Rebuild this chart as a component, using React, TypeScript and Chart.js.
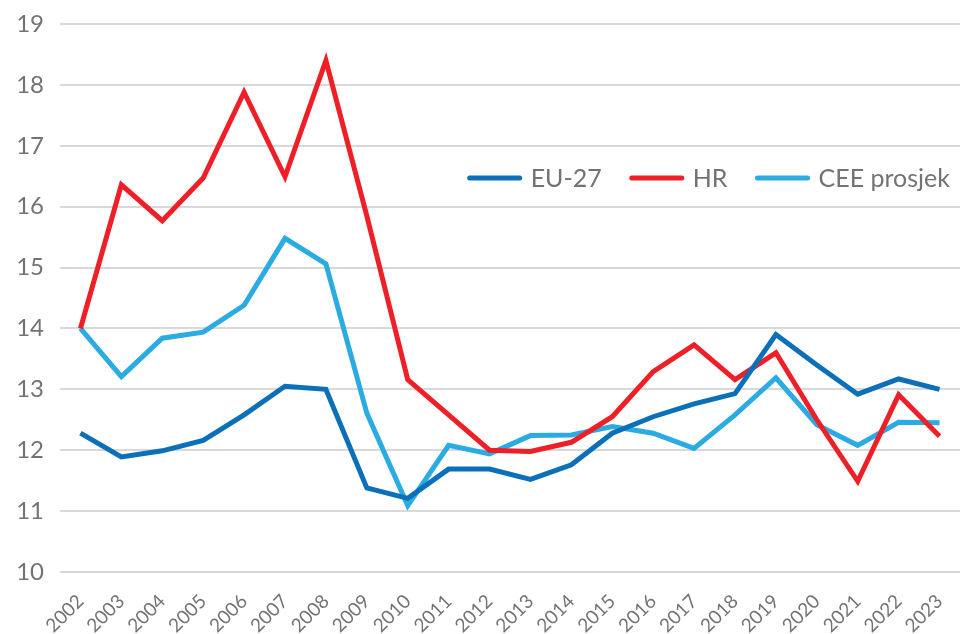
import React, { useEffect, useRef } from "react";
import { Chart, registerables } from "chart.js";

Chart.register(...registerables);

const years = ["2002","2003","2004","2005","2006","2007","2008","2009","2010","2011","2012","2013","2014","2015","2016","2017","2018","2019","2020","2021","2022","2023"];
const eu27 = [12.28, 11.89, 11.99, 12.16, 12.58, 13.05, 13.0, 11.38, 11.21, 11.69, 11.69, 11.52, 11.76, 12.28, 12.55, 12.76, 12.93, 13.9, 13.4, 12.92, 13.17, 13.0];
const hr = [14.0, 16.36, 15.77, 16.47, 17.88, 16.49, 18.4, 15.85, 13.16, 12.58, 12.0, 11.98, 12.13, 12.55, 13.29, 13.73, 13.16, 13.6, 12.5, 11.49, 12.91, 12.23];
const cee = [14.0, 13.21, 13.84, 13.94, 14.38, 15.48, 15.06, 12.61, 11.09, 12.08, 11.94, 12.24, 12.25, 12.39, 12.28, 12.03, 12.58, 13.19, 12.42, 12.08, 12.46, 12.45];
const seriesLabels = ["EU-27", "HR", "CEE prosjek"];
const seriesColors = ["#0B70B8", "#EE1F26", "#2AABE2"];
const yMin = 10;
const yMax = 19;

const FONT = "Lato, 'Open Sans', sans-serif";
const GREY = "#737373";

const legendPlugin = {
  id: "insideLegend",
  afterDraw(chart: any) {
    const ctx = chart.ctx;
    const area = chart.chartArea;
    const lineLen = 54;
    const gapLineText = 9;
    const gapItems = 28;
    ctx.save();
    ctx.font = `25px ${FONT}`;
    const items = chart.data.datasets.map((d: any) => ({
      label: d.label,
      color: d.borderColor,
      w: ctx.measureText(d.label).width,
    }));
    let total = 0;
    items.forEach((it: any, i: number) => {
      total += lineLen + gapLineText + it.w + (i < items.length - 1 ? gapItems : 0);
    });
    let x = area.right - 10 - total;
    const y = area.top + 154;
    items.forEach((it: any) => {
      ctx.strokeStyle = it.color;
      ctx.lineWidth = 5;
      ctx.lineCap = "round";
      ctx.beginPath();
      ctx.moveTo(x + 2, y);
      ctx.lineTo(x + lineLen - 2, y);
      ctx.stroke();
      x += lineLen + gapLineText;
      ctx.fillStyle = GREY;
      ctx.textBaseline = "middle";
      ctx.textAlign = "left";
      ctx.fillText(it.label, x, y + 1);
      x += it.w + gapItems;
    });
    ctx.restore();
  },
};

export default function App() {
  const ref = useRef<HTMLCanvasElement | null>(null);
  useEffect(() => {
    document.body.style.margin = "0";
    const c = ref.current;
    if (!c) return;
    const datasets = [eu27, hr, cee].map((data, i) => ({
      label: seriesLabels[i],
      data,
      borderColor: seriesColors[i],
      backgroundColor: seriesColors[i],
      borderWidth: 5,
      pointRadius: 0,
      tension: 0,
      fill: false,
    }));
    const chart = new Chart(c, {
      type: "line",
      data: { labels: years, datasets },
      plugins: [legendPlugin],
      options: {
        animation: false,
        responsive: false,
        maintainAspectRatio: false,
        layout: { padding: { top: 24, right: 0, left: 0, bottom: 0 } },
        plugins: {
          legend: { display: false },
          tooltip: { enabled: false },
        },
        scales: {
          x: {
            offset: true,
            grid: { display: false, drawTicks: false },
            border: { display: false },
            ticks: {
              color: GREY,
              font: { family: FONT, size: 19 },
              maxRotation: 45,
              minRotation: 45,
              autoSkip: false,
              padding: 18,
            },
            afterFit(s: any) {
              s.height = 62;
              s.paddingLeft = 0;
              s.paddingRight = 0;
              s.paddingTop = 0;
              s.paddingBottom = 0;
            },
          },
          y: {
            min: yMin,
            max: yMax,
            grid: { color: "#d9d9d9", lineWidth: 2, drawTicks: false },
            border: { display: false },
            ticks: {
              stepSize: 1,
              color: GREY,
              font: { family: FONT, size: 24 },
              padding: 16,
            },
            afterFit(s: any) {
              s.width = 60;
              s.paddingTop = 0;
              s.paddingBottom = 0;
              s.paddingLeft = 0;
              s.paddingRight = 0;
            },
          },
        },
      },
    });
    return () => chart.destroy();
  }, []);
  return (
    <div style={{ width: 960, height: 634, position: "relative", background: "#fff" }}>
      <canvas ref={ref} width={960} height={634} style={{ display: "block" }} />
    </div>
  );
}
